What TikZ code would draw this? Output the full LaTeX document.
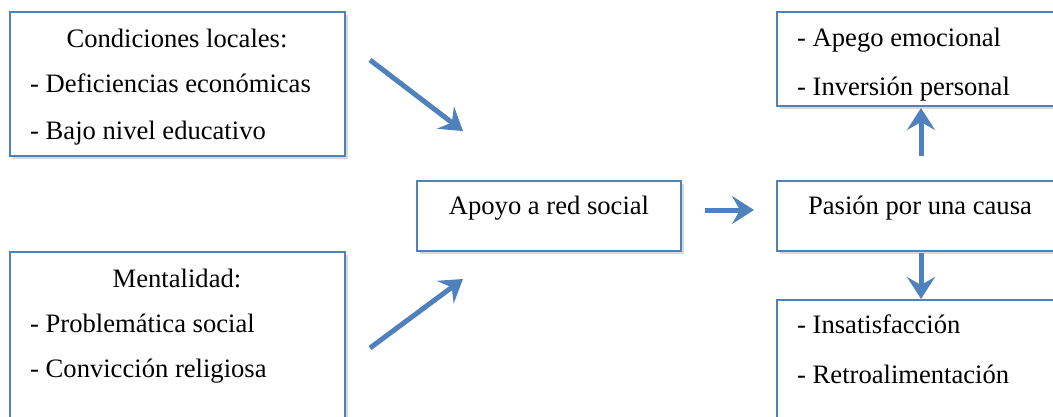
\documentclass[tikz,border=0pt]{standalone}
\usepackage{fontspec}
\setmainfont{Liberation Serif}
\usetikzlibrary{arrows.meta,shadows}
\definecolor{boxblue}{RGB}{79,129,189}
\tikzset{
  box/.style={draw=boxblue, line width=2pt, fill=white, inner sep=0pt,
    drop shadow={shadow xshift=3pt, shadow yshift=-3pt, opacity=0.25, fill=black!60}},
  txt/.style={inner sep=0pt, font=\fontsize{26.6}{30}\selectfont, text=black},
  conn/.style={draw=boxblue, line width=5pt,
    -{Stealth[length=22pt,width=28pt,inset=8pt]}}
}
\begin{document}
\begin{tikzpicture}[x=1pt,y=-1pt]
\useasboundingbox (0,0) rectangle (1053,416);
% boxes
\node[box, minimum width=335pt, minimum height=144pt] (cond) at (177.5,84) {};
\node[box, minimum width=335pt, minimum height=218pt] (ment) at (177.5,361) {};
\node[box, minimum width=264pt, minimum height=70pt] (apoyo) at (549,216) {};
\node[box, minimum width=333pt, minimum height=70pt] (pasion) at (943.5,216) {};
\node[box, minimum width=333pt, minimum height=94pt] (apego) at (943.5,59) {};
\node[box, minimum width=333pt, minimum height=170pt] (insat) at (943.5,385) {};
% texts
\node[txt, anchor=base] (t1) at (177,47) {Condiciones locales:};
\node[txt, anchor=base west] (t2) at (30,92) {- Deficiencias económicas};
\node[txt, anchor=base west] (t3) at (30,139) {- Bajo nivel educativo};
\node[txt, anchor=base] (t4) at (177,287) {Mentalidad:};
\node[txt, anchor=base west] (t5) at (30,332) {- Problemática social};
\node[txt, anchor=base west] (t6) at (30,377) {- Convicción religiosa};
\node[txt, anchor=base west] (t7) at (30,436) {- Decepción personal};
\node[txt, anchor=base] (t8) at (549,214) {Apoyo a red social};
\node[txt, anchor=base] (t9) at (920,214) {Pasión por una causa};
\node[txt, anchor=base west] (t10) at (797,46) {- Apego emocional};
\node[txt, anchor=base west] (t11) at (797,95) {- Inversión personal};
\node[txt, anchor=base west] (t12) at (797,333) {- Insatisfacción};
\node[txt, anchor=base west] (t13) at (797,383) {- Retroalimentación};
% arrow coordinates
\coordinate (a1s) at (370,60);  \coordinate (a1e) at (463,131);
\coordinate (a2s) at (370,348); \coordinate (a2e) at (463,279);
\coordinate (a3s) at (705,210); \coordinate (a3e) at (754,210);
\coordinate (a4s) at (921,156); \coordinate (a4e) at (921,108);
\coordinate (a5s) at (921,253); \coordinate (a5e) at (921,299);
\draw[conn] (a1s) -- (a1e);
\draw[conn] (a2s) -- (a2e);
\draw[conn] (a3s) -- (a3e);
\draw[conn] (a4s) -- (a4e);
\draw[conn] (a5s) -- (a5e);
\end{tikzpicture}
\end{document}
